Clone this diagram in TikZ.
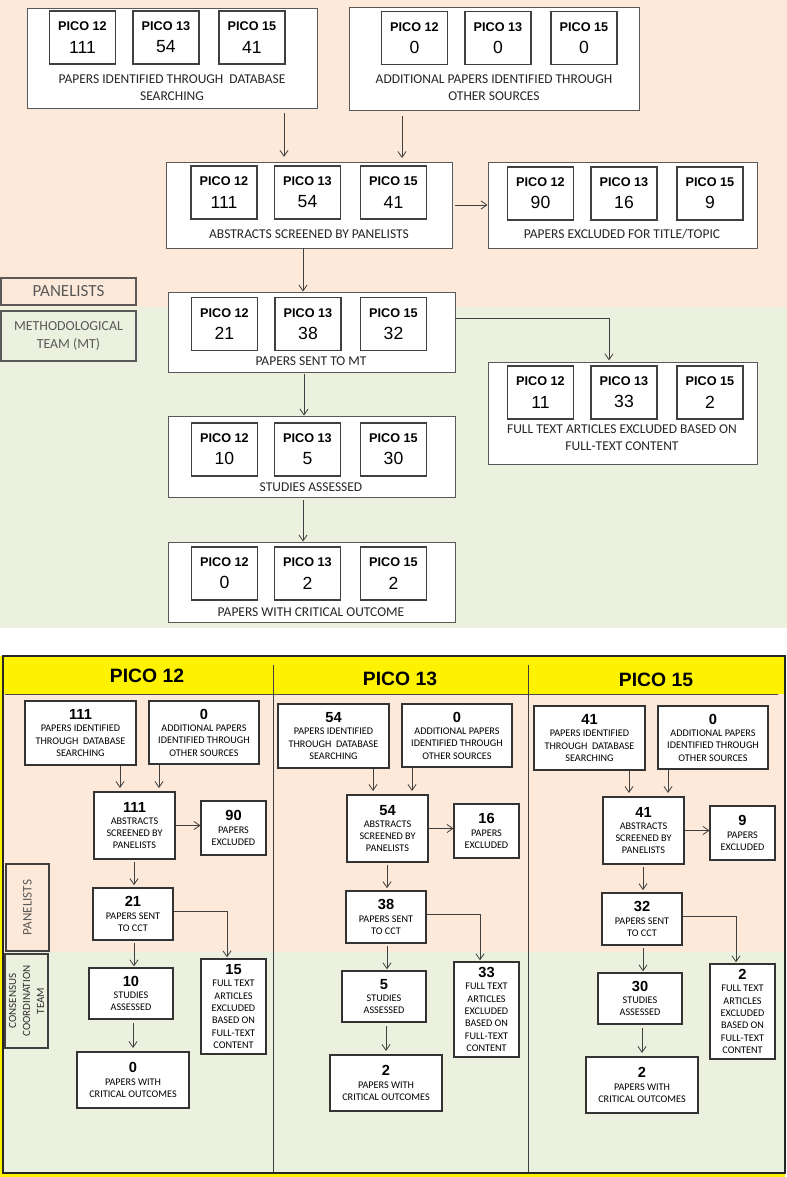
\documentclass[tikz,border=0pt]{standalone}
\usepackage{fontspec}
\setmainfont{Carlito}
\newfontfamily\arial{Liberation Sans}
\usetikzlibrary{arrows.meta}

\definecolor{peach}{HTML}{FDE9D9}
\definecolor{olive}{HTML}{EBF1DE}
\definecolor{edge}{HTML}{595959}
\newcommand\px{0.03cm}
\newcommand\cnt[1]{{\arial\bfseries\fontsize{12.5}{14}\selectfont #1}}
\newcommand\topcnt[1]{{\fontsize{15}{16}\selectfont #1}}

\tikzset{
  bigbox/.style={draw=edge, fill=white, line width=0.8pt, inner sep=0pt},
  picobox/.style={draw=black!75, fill=white, line width=1pt, inner sep=0pt,
    minimum width=66*\px, minimum height=53*\px, align=center,
    font=\arial\fontsize{10.8}{19}\selectfont},
  toplbl/.style={align=center, text=black!85, font=\fontsize{11.5}{14.5}\selectfont},
  stepbox/.style={draw=black!80, fill=white, line width=0.9pt, inner sep=0pt,
    align=center, font=\fontsize{8.7}{10.5}\selectfont},
  sidebox/.style={draw=edge, line width=1pt, inner sep=0pt, align=center, text=edge},
  headlbl/.style={font=\arial\bfseries\fontsize{16.5}{18}\selectfont},
  flow/.style={draw=black!75, line width=0.7pt, -{Straight Barb[length=5pt,width=7pt]}},
}

\begin{document}
\begin{tikzpicture}[x=0.03cm, y=-0.03cm]
    \useasboundingbox (0,0) rectangle (787,1177);

    % upper chart: all PICOs together
    \fill[peach] (0,0) rectangle (787,307);
    \fill[olive] (0,307) rectangle (787,628);

    \node[sidebox, fill=peach, minimum width=135*\px, minimum height=27*\px,
      font=\fontsize{14.5}{16}\selectfont] (panel) at (68.5,291.5) {PANELISTS};
    \node[sidebox, fill=olive, minimum width=135*\px, minimum height=50*\px,
      font=\fontsize{11.8}{15.3}\selectfont] (mteam) at (68.5,336) {METHODOLOGICAL\\TEAM (MT)};

    \node[bigbox, minimum width=290*\px, minimum height=100*\px] (ident) at (172,58) {};
    \foreach \p/\x/\v in {12/82.5/111, 13/166/54, 15/252/41}
        \node[picobox] (ident\p) at (\x,37.5) {\textbf{PICO \p}\\\topcnt{\v}};
    \node[toplbl] (identlbl) at (172,87.5) {PAPERS IDENTIFIED THROUGH~ DATABASE\\SEARCHING};

    \node[bigbox, minimum width=290*\px, minimum height=103*\px] (other) at (494,58.5) {};
    \foreach \p/\x/\v in {12/414.5/0, 13/498/0, 15/584/0}
        \node[picobox] (other\p) at (\x,38) {\textbf{PICO \p}\\\topcnt{\v}};
    \node[toplbl] (otherlbl) at (494,87.5) {ADDITIONAL PAPERS IDENTIFIED THROUGH\\OTHER SOURCES};

    \node[bigbox, minimum width=286*\px, minimum height=86*\px] (screen) at (309,205) {};
    \foreach \p/\x/\v in {12/224/111, 13/307.5/54, 15/393.5/41}
        \node[picobox] (screen\p) at (\x,192.5) {\textbf{PICO \p}\\\topcnt{\v}};
    \node[toplbl] (screenlbl) at (309,234) {ABSTRACTS SCREENED BY PANELISTS};

    \node[bigbox, minimum width=269*\px, minimum height=86*\px] (excl) at (622.5,205) {};
    \foreach \p/\x/\v in {12/540.5/90, 13/624/16, 15/710/9}
        \node[picobox] (excl\p) at (\x,193.5) {\textbf{PICO \p}\\\topcnt{\v}};
    \node[toplbl] (excllbl) at (622,234) {PAPERS EXCLUDED FOR TITLE/TOPIC};

    \node[bigbox, minimum width=287*\px, minimum height=80*\px] (sentmt) at (311.5,332) {};
    \foreach \p/\x/\v in {12/224.5/21, 13/308/38, 15/393.5/32}
        \node[picobox] (sentmt\p) at (\x,324) {\textbf{PICO \p}\\\topcnt{\v}};
    \node[toplbl] (sentmtlbl) at (311,361) {PAPERS SENT TO MT};

    \node[bigbox, minimum width=269*\px, minimum height=102*\px] (fulltxt) at (622.5,413) {};
    \foreach \p/\x/\v in {12/540.5/11, 13/624/33, 15/710/2}
        \node[picobox] (fulltxt\p) at (\x,392.5) {\textbf{PICO \p}\\\topcnt{\v}};
    \node[toplbl] (fulltxtlbl) at (622,437.5) {FULL TEXT ARTICLES EXCLUDED BASED ON\\FULL-TEXT CONTENT};

    \node[bigbox, minimum width=287*\px, minimum height=81*\px] (assess) at (311.5,456.5) {};
    \foreach \p/\x/\v in {12/224.5/10, 13/307.5/5, 15/393.5/30}
        \node[picobox] (assess\p) at (\x,449.5) {\textbf{PICO \p}\\\topcnt{\v}};
    \node[toplbl] (assesslbl) at (311,487) {STUDIES ASSESSED};

    \node[bigbox, minimum width=287*\px, minimum height=80*\px] (crit) at (311.5,582) {};
    \foreach \p/\x/\v in {12/224.5/0, 13/307.5/2, 15/393.5/2}
        \node[picobox] (crit\p) at (\x,573.5) {\textbf{PICO \p}\\\topcnt{\v}};
    \node[toplbl] (critlbl) at (311,612) {PAPERS WITH CRITICAL OUTCOME};

    \draw[flow, shorten <=4pt, shorten >=4pt] (284,0 |- ident.south) -- (284,0 |- screen.north);
    \draw[flow, shorten <=5pt, shorten >=3pt] (402,0 |- other.south) -- (402,0 |- screen.north);
    \draw[flow, shorten <=2pt] (screen.east) -- (screen.east -| excl.west);
    \draw[flow] (303,0 |- screen.south) -- (303,0 |- sentmt.north);
    \draw[flow, shorten >=1pt] (sentmt.east |- 0,318) -| (fulltxt.north -| 609,0);
    \draw[flow, shorten <=1pt] (304,0 |- sentmt.south) -- (304,0 |- assess.north);
    \draw[flow, shorten <=2pt] (303,0 |- assess.south) -- (303,0 |- crit.north);

    % lower chart: one column per PICO
    \fill[yellow] (0,656) rectangle (785,1177);
    \fill[peach] (4,694) rectangle (784,952);
    \fill[olive] (4,952) rectangle (784,1172);
    \draw[black!85, line width=0.9pt] (3,656) rectangle (785,1173);
    \draw[black!70, line width=0.8pt] (5,694) -- (778,694);
    \draw[black!75, line width=0.8pt] (273,665) -- (273,1172);
    \draw[black!75, line width=0.8pt] (528,665) -- (528,1172);

    \node[sidebox, draw=black!75, rotate=90, minimum width=87*\px, minimum height=43*\px,
      font=\fontsize{11.2}{13}\selectfont] (panelB) at (27.5,907.5) {PANELISTS};
    \node[sidebox, draw=black!75, text=black!80, rotate=90, minimum width=94*\px, minimum height=43*\px,
      font=\fontsize{9.4}{12}\selectfont] (cct) at (26.5,1001) {CONSENSUS\\COORDINATION\\TEAM};

    \foreach \pc/\dx/\dy/\hy/\nDb/\nExc/\nSent/\nStud/\nCrit/\nFull in
        {12/0/0/676/111/90/21/10/0/15, 13/253/3/676/54/16/38/5/2/33, 15/509/5/675/41/9/32/30/2/2} {
      \begin{scope}[shift={(\dx,\dy)}]
        \node[headlbl] (head\pc) at (147,\hy) {PICO \pc};

        \node[stepbox, minimum width=111*\px, minimum height=64*\px] (db\pc) at (80.5,733)
            {\cnt{\nDb}\\PAPERS IDENTIFIED\\THROUGH~ DATABASE\\SEARCHING};
        \node[stepbox, minimum width=110*\px, minimum height=63*\px] (add\pc) at (204,732.5)
            {\cnt{0}\\ADDITIONAL PAPERS\\IDENTIFIED THROUGH\\OTHER SOURCES};
        \node[stepbox, minimum width=81*\px, minimum height=67*\px] (abs\pc) at (134.5,825.5)
            {\cnt{\nDb}\\ABSTRACTS\\SCREENED BY\\PANELISTS};
        \node[stepbox, minimum width=65*\px, minimum height=54*\px] (exc\pc) at (233.5,828)
            {\cnt{\nExc}\\PAPERS\\EXCLUDED};
        \node[stepbox, minimum width=80*\px, minimum height=52*\px] (sent\pc) at (133,914)
            {\cnt{\nSent}\\PAPERS SENT\\TO CCT};
        \node[stepbox, minimum width=84*\px, minimum height=51*\px] (stud\pc) at (131,993.5)
            {\cnt{\nStud}\\STUDIES\\ASSESSED};
        \node[stepbox, minimum width=112*\px, minimum height=56*\px] (crit\pc) at (133,1080)
            {\cnt{\nCrit}\\PAPERS WITH\\CRITICAL OUTCOMES};
        \node[stepbox, minimum width=65*\px, minimum height=95*\px] (full\pc) at (233.5,1006.5)
            {\cnt{\nFull}\\FULL TEXT\\ARTICLES\\EXCLUDED\\BASED ON\\FULL-TEXT\\CONTENT};

        \draw[flow, shorten >=3pt] (120,0 |- db\pc.south) -- (120,0 |- abs\pc.north);
        \draw[flow, shorten >=3pt] (159,0 |- add\pc.south) -- (159,0 |- abs\pc.north);
        \draw[flow] (abs\pc.east) -- (abs\pc.east -| exc\pc.west);
        \draw[flow, shorten <=2pt, shorten >=2pt] (134,0 |- abs\pc.south) -- (134,0 |- sent\pc.north);
        \draw[flow, shorten >=1pt] (sent\pc.east |- 0,911) -| (full\pc.north -| 227,0);
        \draw[flow, shorten <=2pt, shorten >=1pt] (134,0 |- sent\pc.south) -- (134,0 |- stud\pc.north);
        \draw[flow, shorten <=3pt, shorten >=3pt] (133,0 |- stud\pc.south) -- (133,0 |- crit\pc.north);
      \end{scope}
    }
\end{tikzpicture}
\end{document}
